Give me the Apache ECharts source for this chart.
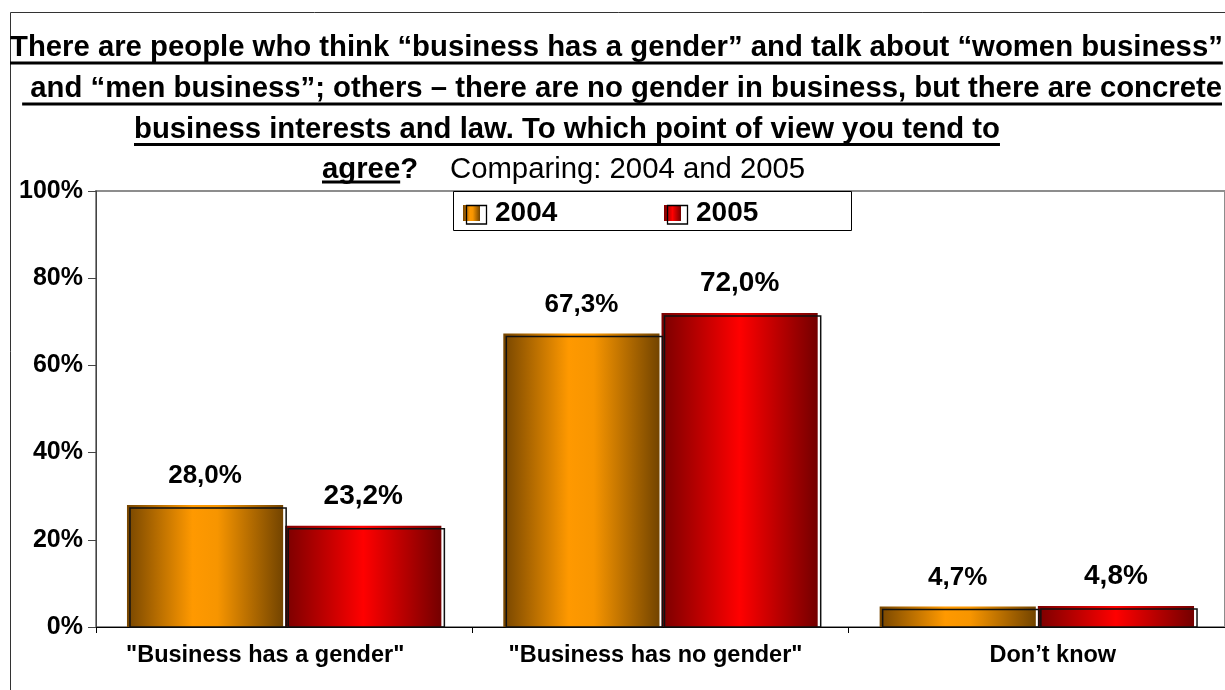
<!DOCTYPE html>
<html>
<head>
<meta charset="utf-8">
<title>Business and gender – 2004 vs 2005</title>
<script src="https://cdn.jsdelivr.net/npm/echarts@6/dist/echarts.min.js"></script>
<style>
  html, body { margin: 0; padding: 0; background: #fff; }
  #chart { width: 1225px; height: 690px; }
</style>
</head>
<body>
<div id="chart"></div>
<script>
// ---- data ----
const categories = ['"Business has a gender"', '"Business has no gender"', 'Don’t know'];
const seriesNames = ['2004', '2005'];
const values2004 = [28.0, 67.3, 4.7];
const values2005 = [23.2, 72.0, 4.8];
const yTicks = [0, 20, 40, 60, 80, 100];
const titleLines = [
  'There are people who think “business has a gender” and talk about “women business”',
  ' and “men business”; others – there are no gender in business, but there are concrete',
  'business interests and law. To which point of view you tend to',
  'agree?'
];
const titleUnderlined = ['There are people who think “business has a gender” and talk about “women business”',
  ' and “men business”; others – there are no gender in business, but there are concrete',
  'business interests and law. To which point of view you tend to',
  'agree'];
const subtitle = 'Comparing: 2004 and 2005';

// ---- styling helpers ----
const FONT = '"Liberation Sans", Arial, Helvetica, sans-serif';
const measureCtx = document.createElement('canvas').getContext('2d');
function textWidth(str, size, weight) {
  measureCtx.font = `${weight} ${size}px ${FONT}`;
  return measureCtx.measureText(str).width;
}
function hGradient(stops) {
  return new echarts.graphic.LinearGradient(0, 0, 1, 0,
    stops.map(([offset, color]) => ({ offset, color })));
}
const fill2004 = hGradient([[0, '#774600'], [0.42, '#ff9900'], [0.58, '#f79500'], [1, '#734400']]);
const fill2005 = hGradient([[0, '#7a0000'], [0.5, '#ff0000'], [1, '#740000']]);

const BAR_FRAC = 0.415;   // bar width as share of the category band
const BAR_GAP = 0.013;    // gap between paired bars, share of bar width
const FRAME_SHIFT = 3;    // offset of the black frame behind each bar

const pctLabel = v => v.toFixed(1).replace('.', ',') + '%';

// ---- title block (graphic text with drawn underlines) ----
const TITLE_SIZE = 29.3;
const titleRows = [
  { x: 10, mid: 48, ul: 63 },
  { right: 1222, mid: 89, ul: 104 },
  { x: 134, mid: 130, ul: 144.5 },
  { x: 322, mid: 170, ul: 182 }
];
const graphics = [];
// outer frame
graphics.push({ type: 'rect', z: 1, silent: true,
  shape: { x: 10.5, y: 12.5, width: 1300, height: 800 },
  style: { fill: 'none', stroke: '#333', lineWidth: 1 } });

titleRows.forEach((row, i) => {
  const w = textWidth(titleLines[i], TITLE_SIZE, 'bold');
  const x = row.right !== undefined ? row.right - w : row.x;
  const uw = textWidth(titleUnderlined[i], TITLE_SIZE, 'bold');
  graphics.push({ type: 'text', z: 5, silent: true, x: x, y: row.mid,
    style: { text: titleLines[i], fontSize: TITLE_SIZE, fontWeight: 'bold', fontFamily: FONT,
      fill: '#000', verticalAlign: 'middle' } });
  graphics.push({ type: 'line', z: 5, silent: true,
    shape: { x1: x, y1: row.ul, x2: x + uw, y2: row.ul },
    style: { stroke: '#000', lineWidth: 3 } });
});
graphics.push({ type: 'text', z: 5, silent: true, x: 450, y: titleRows[3].mid,
  style: { text: subtitle, fontSize: TITLE_SIZE, fontWeight: 'normal', fontFamily: FONT,
    fill: '#000', verticalAlign: 'middle' } });

// ---- legend box and swatch frames ----
const LEG_LEFT = 463, LEG_SIZE = 28, LEG_ICON_W = 17, LEG_ICON_H = 16, LEG_TXT_PAD = 10;
const secondIconX = 664;
const legGap = secondIconX - (LEG_LEFT + LEG_ICON_W + 5 + LEG_TXT_PAD + textWidth(seriesNames[0], LEG_SIZE, 'bold'));
graphics.push({ type: 'rect', z: 2, silent: true,
  shape: { x: 453.5, y: 191.5, width: 398, height: 39 },
  style: { fill: '#fff', stroke: '#000', lineWidth: 1 } });
[LEG_LEFT, secondIconX].forEach(ix => {
  graphics.push({ type: 'rect', z: 20, silent: true,
    shape: { x: ix + 3.5, y: 205.5, width: 20, height: 18.5 },
    style: { fill: 'none', stroke: '#000', lineWidth: 1.3 } });
});

// ---- frames behind bars (custom series driven by the same values) ----
const frameData = [];
values2004.forEach((v, i) => frameData.push([i, v, 0]));
values2005.forEach((v, i) => frameData.push([i, v, 1]));

function renderFrame(params, api) {
  const cat = api.value(0), val = api.value(1), s = api.value(2);
  const band = api.size([1, 0])[0];
  const bw = band * BAR_FRAC;
  const gap = bw * BAR_GAP;
  const top = api.coord([cat, val]);
  const base = api.coord([cat, 0]);
  const x0 = top[0] - (2 * bw + gap) / 2 + s * (bw + gap);
  return {
    type: 'rect',
    shape: { x: x0 + FRAME_SHIFT, y: top[1] + FRAME_SHIFT, width: bw, height: base[1] - top[1] - FRAME_SHIFT },
    style: { fill: 'none', stroke: '#111', lineWidth: 1.5 }
  };
}

const labelBase = { show: true, position: 'top', distance: 16, color: '#000', fontWeight: 'bold', fontFamily: FONT,
  formatter: p => pctLabel(p.value) };

const option = {
  animation: false,
  backgroundColor: '#fff',
  textStyle: { fontFamily: FONT },
  grid: { left: 96, top: 191, width: 1134, bottom: 63, show: true, borderColor: '#8d8d8d', borderWidth: 2, backgroundColor: 'transparent' },
  legend: {
    data: seriesNames, left: LEG_LEFT, top: 199, padding: 0, z: 10,
    icon: 'rect', itemWidth: LEG_ICON_W, itemHeight: LEG_ICON_H, itemGap: legGap, selectedMode: false,
    textStyle: { fontSize: LEG_SIZE, fontWeight: 'bold', color: '#000', fontFamily: FONT, padding: [0, 0, 0, LEG_TXT_PAD] }
  },
  xAxis: {
    type: 'category', data: categories,
    axisLine: { lineStyle: { color: '#000', width: 1 } },
    axisTick: { show: true, length: 6, interval: 0, lineStyle: { color: '#000' } },
    axisLabel: {
      interval: 0, margin: 17, color: '#000', fontSize: 23.5, fontWeight: 'bold', fontFamily: FONT,
      formatter: (v, i) => `{c${i}|${v}}`,
      rich: {
        c0: { fontSize: 23.5, fontWeight: 'bold', fontFamily: FONT, color: '#000', padding: [0, 38, 0, 0] },
        c1: { fontSize: 23.5, fontWeight: 'bold', fontFamily: FONT, color: '#000', padding: [0, 10, 0, 0] },
        c2: { fontSize: 23.5, fontWeight: 'bold', fontFamily: FONT, color: '#000', padding: [0, 0, 0, 32] }
      }
    }
  },
  yAxis: {
    type: 'value', min: yTicks[0], max: yTicks[yTicks.length - 1], interval: yTicks[1] - yTicks[0],
    axisLine: { show: true, lineStyle: { color: '#444', width: 1 } },
    axisTick: { show: true, length: 8, lineStyle: { color: '#444' } },
    splitLine: { show: false },
    axisLabel: { formatter: '{value}%', margin: 13, color: '#000', fontSize: 25, fontWeight: 'bold', fontFamily: FONT }
  },
  series: [
    { name: seriesNames[0], type: 'bar', data: values2004, barWidth: (BAR_FRAC * 100) + '%', barGap: (BAR_GAP * 100) + '%',
      itemStyle: { color: fill2004 }, label: Object.assign({}, labelBase, { fontSize: 26 }), z: 2 },
    { name: seriesNames[1], type: 'bar', data: values2005, barWidth: (BAR_FRAC * 100) + '%', barGap: (BAR_GAP * 100) + '%',
      itemStyle: { color: fill2005 }, label: Object.assign({}, labelBase, { fontSize: 28 }), z: 2 },
    { name: 'frame', type: 'custom', data: frameData, renderItem: renderFrame, encode: { x: 0, y: 1 }, z: 3, silent: true }
  ],
  graphic: graphics
};

const chart = echarts.init(document.getElementById('chart'));
chart.setOption(option);
</script>
</body>
</html>
